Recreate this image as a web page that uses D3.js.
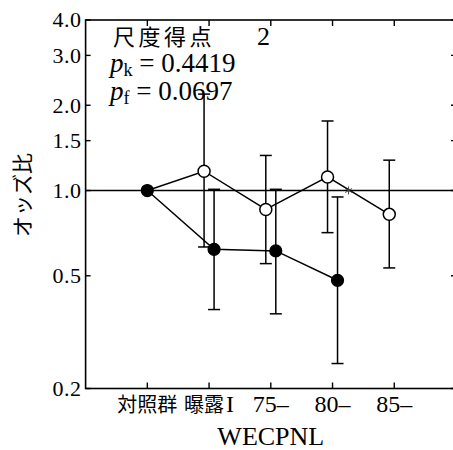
<!DOCTYPE html>
<html>
<head>
<meta charset="utf-8">
<script src="https://cdn.jsdelivr.net/npm/d3@7"></script>
<style>
    body { margin: 0; background: #fff; }
    svg { display: block; }
    .serif { font-family: "Liberation Serif", "DejaVu Serif", "Times New Roman", Times, serif; }
    .cjk { font-family: "Noto Sans CJK JP", "Noto Sans CJK SC", sans-serif; }
</style>
</head>
<body>
<div id="chart"></div>
<script>
// categories on the x axis
let categories = ["対照群", "曝露I", "75–", "80–", "85–"];
let yTicks = [0.2, 0.5, 1.0, 1.5, 2.0, 3.0, 4.0];

// filled circles
let filledOdds = [1.0, 0.62, 0.612, 0.482];
let filledLow = [null, 0.38, 0.367, 0.245];
let filledHigh = [null, 1.01, 1.01, 0.949];

// open circles (first point is the shared reference group)
let openOdds = [1.0, 1.17, 0.857, 1.117, 0.824];
let openLow = [null, 0.632, 0.552, 0.710, 0.533];
let openHigh = [null, 2.19, 1.33, 1.76, 1.28];

// small asterisk on the reference line
let markers = [{ x: 3.26, y: 1.0 }];

let width = 453, height = 450;

let svg = d3.select("#chart")
    .append("svg")
    .attr("width", width)
    .attr("height", height);

let x = d3.scaleLinear().domain([-1, 5]).range([85.6, 456]);
let y = d3.scaleLog().domain([0.2, 4]).range([388.5, 20]);

// offset of the two series from the category position (px)
let shift = 5;

function series(odds, low, high, dx) {
    return odds.map((v, i) => ({
        i: i,
        v: v,
        lo: low[i],
        hi: high[i],
        px: i === 0 ? x(0) : x(i) + dx
    }));
}

let filled = series(filledOdds, filledLow, filledHigh, shift);
let open = series(openOdds, openLow, openHigh, -shift);

// frame
let axisColor = "#000";
svg.append("rect")
    .attr("x", x(-1)).attr("y", y(4))
    .attr("width", x(5) - x(-1)).attr("height", y(0.2) - y(4))
    .attr("fill", "none")
    .attr("stroke", axisColor).attr("stroke-width", 1.6);

// left / right axis ticks + labels
let yAxis = svg.append("g");
yAxis.selectAll("line.tl")
    .data(yTicks).enter()
    .append("line")
    .attr("x1", x(-1)).attr("x2", x(-1) + 5)
    .attr("y1", d => y(d)).attr("y2", d => y(d))
    .attr("stroke", axisColor).attr("stroke-width", 1.4);
yAxis.selectAll("line.tr")
    .data(yTicks).enter()
    .append("line")
    .attr("x1", x(5)).attr("x2", x(5) - 5)
    .attr("y1", d => y(d)).attr("y2", d => y(d))
    .attr("stroke", axisColor).attr("stroke-width", 1.4);
yAxis.selectAll("text")
    .data(yTicks).enter()
    .append("text")
    .attr("class", "serif")
    .attr("x", x(-1) - 4)
    .attr("y", d => y(d))
    .attr("dy", "0.33em")
    .attr("text-anchor", "end")
    .style("font-size", "22px")
    .style("letter-spacing", "0.5px")
    .text(d3.format(".1f"));

// category ticks top and bottom
let xAxis = svg.append("g");
xAxis.selectAll("line.b")
    .data(categories).enter()
    .append("line")
    .attr("x1", (d, i) => x(i)).attr("x2", (d, i) => x(i))
    .attr("y1", y(0.2)).attr("y2", y(0.2) - 6)
    .attr("stroke", axisColor).attr("stroke-width", 1.4);
xAxis.selectAll("line.t")
    .data(categories).enter()
    .append("line")
    .attr("x1", (d, i) => x(i)).attr("x2", (d, i) => x(i))
    .attr("y1", y(4)).attr("y2", y(4) + 6)
    .attr("stroke", axisColor).attr("stroke-width", 1.4);
xAxis.selectAll("text")
    .data(categories).enter()
    .append("text")
    .attr("x", (d, i) => x(i))
    .attr("y", 412)
    .attr("text-anchor", "middle")
    .each(function(d) {
        // CJK parts in sans, latin parts in serif
        let t = d3.select(this);
        let parts = d.match(/[\u3000-\u9fff]+|[^\u3000-\u9fff]+/g);
        parts.forEach(p => {
            let cj = /[\u3000-\u9fff]/.test(p);
            t.append("tspan")
                .attr("class", cj ? "cjk" : "serif")
                .attr("dx", !cj && /^[A-Z]/.test(p) ? 2 : null)
                .style("font-size", cj ? "20px" : "24px")
                .text(p);
        });
    });

// axis titles
svg.append("text")
    .attr("class", "serif")
    .attr("x", (x(-1) + x(5)) / 2)
    .attr("y", 445)
    .attr("text-anchor", "middle")
    .style("font-size", "26px")
    .text("WECPNL");

svg.append("text")
    .attr("class", "cjk")
    .attr("transform", "translate(30,195) rotate(-90)")
    .attr("text-anchor", "middle")
    .style("font-size", "21px")
    .text("オッズ比");

// reference line at 1.0
svg.append("line")
    .attr("x1", x(-1)).attr("x2", x(5))
    .attr("y1", y(1)).attr("y2", y(1))
    .attr("stroke", "#000").attr("stroke-width", 1.4);

// annotation
let note = svg.append("g");
note.append("text")
    .attr("class", "cjk")
    .attr("x", 113).attr("y", 45)
    .style("font-size", "22px")
    .style("letter-spacing", "3.5px")
    .text("尺度得点");
note.append("text")
    .attr("class", "serif")
    .attr("x", 257).attr("y", 45)
    .style("font-size", "26px")
    .text("2");

[["k", "0.4419", 72], ["f", "0.0697", 100]].forEach(([sub, val, yy]) => {
    let t = note.append("text")
        .attr("class", "serif")
        .attr("x", 110).attr("y", yy)
        .style("font-size", "27px");
    t.append("tspan").style("font-style", "italic").text("p");
    t.append("tspan").attr("dy", 4).style("font-size", "18px").text(sub);
    t.append("tspan").attr("dy", -4).text(" = " + val);
});

// connecting lines
let line = d3.line().x(d => d.px).y(d => y(d.v));
[filled, open].forEach(s => {
    svg.append("path")
        .attr("d", line(s))
        .attr("fill", "none")
        .attr("stroke", "#000")
        .attr("stroke-width", 1.5);
});

// error bars
let bars = filled.concat(open).filter(d => d.lo !== null);
let cap = 6;
let eb = svg.append("g")
    .attr("stroke", "#000")
    .attr("stroke-width", 1.5);
eb.selectAll("line.v")
    .data(bars).enter()
    .append("line")
    .attr("x1", d => d.px).attr("x2", d => d.px)
    .attr("y1", d => y(d.lo)).attr("y2", d => y(d.hi));
eb.selectAll("line.lo")
    .data(bars).enter()
    .append("line")
    .attr("x1", d => d.px - cap).attr("x2", d => d.px + cap)
    .attr("y1", d => y(d.lo)).attr("y2", d => y(d.lo));
eb.selectAll("line.hi")
    .data(bars).enter()
    .append("line")
    .attr("x1", d => d.px - cap).attr("x2", d => d.px + cap)
    .attr("y1", d => y(d.hi)).attr("y2", d => y(d.hi));

// points
svg.append("g").selectAll("circle")
    .data(open.slice(1)).enter()
    .append("circle")
    .attr("cx", d => d.px)
    .attr("cy", d => y(d.v))
    .attr("r", 6)
    .attr("fill", "#fff")
    .attr("stroke", "#000")
    .attr("stroke-width", 1.5);
svg.append("g").selectAll("circle")
    .data(filled).enter()
    .append("circle")
    .attr("cx", d => d.px)
    .attr("cy", d => y(d.v))
    .attr("r", 6)
    .attr("fill", "#000")
    .attr("stroke", "#000")
    .attr("stroke-width", 1.2);

// asterisk
let ast = svg.append("g").selectAll("g")
    .data(markers).enter()
    .append("g")
    .attr("transform", d => `translate(${x(d.x)},${y(d.y)})`)
    .attr("stroke", "#444")
    .attr("stroke-width", 1);
[30, 90, 150].forEach(a => {
    let r = a * Math.PI / 180;
    ast.append("line")
        .attr("x1", -4 * Math.cos(r)).attr("y1", -4 * Math.sin(r))
        .attr("x2", 4 * Math.cos(r)).attr("y2", 4 * Math.sin(r));
});
</script>
</body>
</html>
